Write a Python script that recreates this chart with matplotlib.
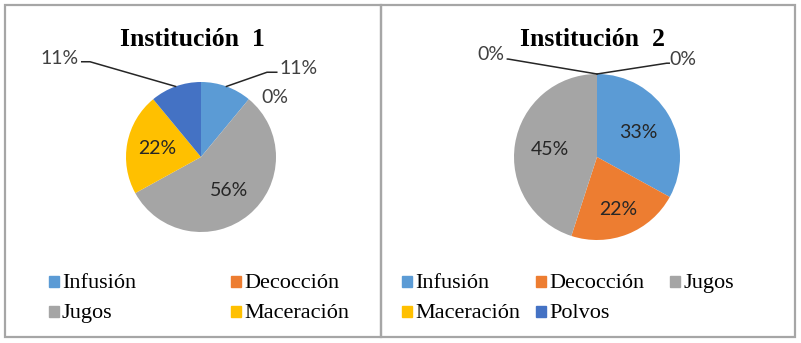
import numpy as np
import matplotlib.pyplot as plt
from matplotlib.patches import Rectangle

categories = ['Infusión', 'Decocción', 'Jugos', 'Maceración', 'Polvos']
colors = ['#5B9BD5', '#ED7D31', '#A5A5A5', '#FFC000', '#4472C4']
inst1 = [11, 0, 56, 22, 11]
inst2 = [33, 22, 45, 0, 0]

W, H = 801, 343
fig = plt.figure(figsize=(W / 100, H / 100), dpi=100)


def px_axes(cx, cy, r):
    # axes box (pixel coords, top-left origin) around a pie of radius r
    return fig.add_axes([(cx - r) / W, (H - cy - r) / H, 2 * r / W, 2 * r / H])


def border(x0, y0, x1, y1):
    fig.add_artist(Rectangle((x0 / W, (H - y1) / H), (x1 - x0) / W, (y1 - y0) / H,
                             transform=fig.transFigure, fill=False,
                             edgecolor='#A6A6A6', lw=1.6))


def draw_pie(ax, values, labels):
    wedges, _ = ax.pie(values, colors=colors, startangle=90, counterclock=False,
                       radius=1, wedgeprops=dict(linewidth=0))
    ax.set_xlim(-1, 1)
    ax.set_ylim(-1, 1)
    for i, w in enumerate(wedges):
        mid = np.deg2rad((w.theta1 + w.theta2) / 2)
        txt = f'{values[i]}%'
        kind = labels[i]
        if kind[0] == 'in':
            rr = kind[1]
            ax.text(rr * np.cos(mid), rr * np.sin(mid), txt, ha='center', va='center',
                    fontsize=14, family='Lato', color='#262626')
        elif kind[0] == 'near':
            ax.text(kind[1], kind[2], txt, ha='center', va='center',
                    fontsize=14, family='Lato', color='#404040')
        else:
            _, (kx, ky), ex, (tx, ty), ha = kind
            ax.plot([np.cos(mid), kx, ex], [np.sin(mid), ky, ky], color='#262626',
                    lw=1.1, clip_on=False)
            ax.text(tx, ty, txt, ha=ha, va='center',
                    fontsize=14, family='Lato', color='#404040')
    return wedges


def legend(x0, base, dx, dy, ncol, n):
    for i in range(n):
        c, r = i % ncol, i // ncol
        x, y = x0 + c * dx, base + r * dy
        fig.add_artist(Rectangle((x / W, (H - y + 1) / H), 10 / W, 11 / H,
                                 transform=fig.transFigure, color=colors[i]))
        fig.text((x + 13) / W, (H - y) / H, categories[i], family='Liberation Serif',
                 fontsize=16, va='baseline', ha='left')


# Panel 1
border(5, 5, 381, 337)
fig.text(192 / W, (H - 40) / H, 'Institución  1', family='Liberation Serif',
         fontweight='bold', fontsize=18.5, ha='center', va='center')
ax1 = px_axes(201, 157, 75)
draw_pie(ax1, inst1, [
    ('lead', (0.88, 1.13), 1.01, (1.05, 1.18), 'left'),
    ('near', 0.98, 0.79),
    ('in', 0.58),
    ('in', 0.59),
    ('lead', (-1.48, 1.27), -1.59, (-1.63, 1.31), 'right'),
])
legend(49, 288, 182, 30, 2, 4)

# Panel 2
border(381, 5, 795, 337)
fig.text(592 / W, (H - 40) / H, 'Institución  2', family='Liberation Serif',
         fontweight='bold', fontsize=18.5, ha='center', va='center')
ax2 = px_axes(597, 157, 83)
draw_pie(ax2, inst2, [
    ('in', 0.58),
    ('in', 0.68),
    ('in', 0.57),
    ('lead', (-1.07, 1.18), -1.08, (-1.11, 1.24), 'right'),
    ('lead', (0.84, 1.13), 0.87, (0.87, 1.18), 'left'),
])
legend(402, 288, 134, 30, 3, 5)

plt.savefig('out.png', dpi=100)
